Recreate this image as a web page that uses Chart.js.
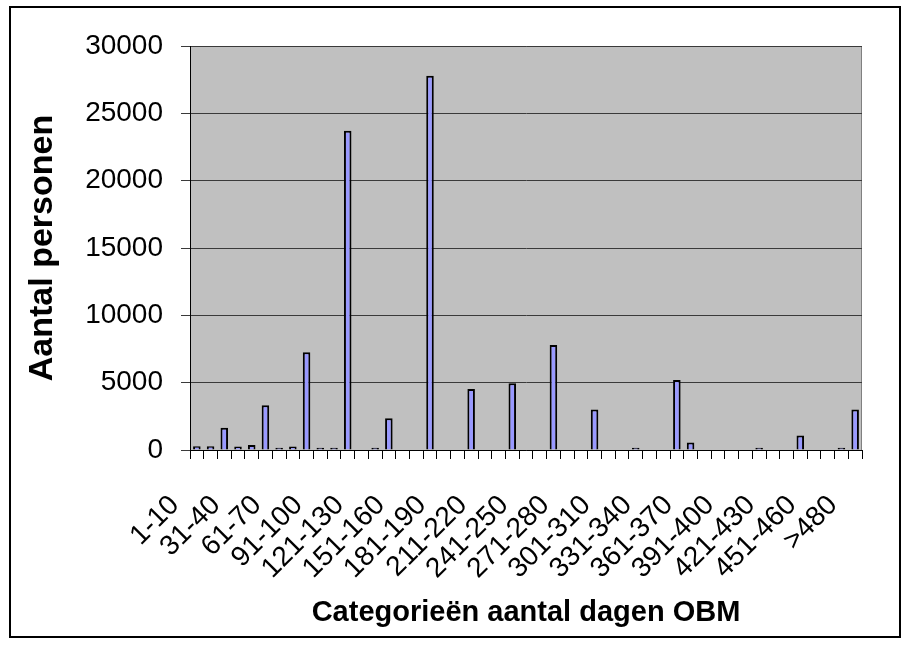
<!DOCTYPE html>
<html>
<head>
<meta charset="utf-8">
<script src="https://cdn.jsdelivr.net/npm/chart.js@4"></script>
<style>
  body { margin: 0; background: #fff; }
  #wrap { width: 912px; height: 646px; }
</style>
</head>
<body>
<div id="wrap"><canvas id="myChart" width="912" height="646"></canvas></div>
<script>
let labels = ['1-10', '11-20', '21-30', '31-40', '41-50', '51-60', '61-70', '71-80', '81-90', '91-100',
  '101-110', '111-120', '121-130', '131-140', '141-150', '151-160', '161-170', '171-180', '181-190', '191-200',
  '201-210', '211-220', '221-230', '231-240', '241-250', '251-260', '261-270', '271-280', '281-290', '291-300',
  '301-310', '311-320', '321-330', '331-340', '341-350', '351-360', '361-370', '371-380', '381-390', '391-400',
  '401-410', '411-420', '421-430', '431-440', '441-450', '451-460', '461-470', '471-480', '>480'];
let personen = [280, 280, 1650, 260, 380, 3320, 160, 260, 7250, 160,
  160, 23700, 0, 160, 2350, 0, 0, 27800, 0, 0,
  4530, 0, 0, 4950, 0, 0, 7800, 0, 0, 3000,
  0, 0, 160, 0, 0, 5200, 550, 0, 0, 0,
  0, 160, 0, 0, 1080, 0, 0, 160, 3000];
let yTicks = [0, 5000, 10000, 15000, 20000, 25000, 30000];

const FONT = "'Liberation Sans', Arial, sans-serif";

// grey plot area, grey top/right edge and the outer frame
const frame = {
  id: 'frame',
  beforeDraw(chart) {
    const { ctx, chartArea: a } = chart;
    ctx.save();
    ctx.fillStyle = '#fff';
    ctx.fillRect(0, 0, chart.width, chart.height);
    ctx.fillStyle = '#c0c0c0';
    ctx.fillRect(a.left, a.top, a.right - a.left, a.bottom - a.top);
    ctx.strokeStyle = '#808080';
    ctx.lineWidth = 1;
    ctx.beginPath();
    ctx.moveTo(a.left, a.top + 0.5);
    ctx.lineTo(a.right - 0.5, a.top + 0.5);
    ctx.lineTo(a.right - 0.5, a.bottom);
    ctx.stroke();
    ctx.strokeStyle = '#000';
    ctx.lineWidth = 2;
    ctx.strokeRect(10, 7, 890, 630);
    ctx.restore();
  }
};

let ctx = document.getElementById('myChart').getContext('2d');
let myChart = new Chart(ctx, {
  type: 'bar',
  data: {
    labels: labels,
    datasets: [{
      data: personen,
      backgroundColor: '#9999ff',
      borderColor: '#000',
      borderWidth: 2,
      barPercentage: 0.55,
      categoryPercentage: 1
    }]
  },
  options: {
    responsive: false,
    animation: false,
    devicePixelRatio: 1,
    layout: { padding: { left: 22, top: 46, right: 50, bottom: 8 } },
    plugins: { legend: { display: false }, tooltip: { enabled: false } },
    scales: {
      x: {
        grid: { drawOnChartArea: false, tickLength: 9, color: '#000', offset: true },
        border: { color: '#000', width: 1 },
        ticks: {
          autoSkip: false,
          minRotation: 45,
          maxRotation: 45,
          padding: 30,
          labelOffset: -22,
          color: '#000',
          font: { family: FONT, size: 28 },
          callback: (v, i) => (i % 3 === 0 ? labels[i] : '')
        },
        title: {
          display: true,
          text: 'Categorieën aantal dagen OBM',
          color: '#000',
          font: { family: FONT, size: 29, weight: 'bold' },
          padding: { top: 0, bottom: 8 }
        },
        afterFit: (scale) => { scale.height = 188; }
      },
      y: {
        min: 0,
        max: 30000,
        afterBuildTicks: (scale) => { scale.ticks = yTicks.map(v => ({ value: v })); },
        grid: { color: '#3a3a3a', tickLength: 9 },
        border: { color: '#000', width: 1 },
        ticks: {
          padding: 18,
          color: '#000',
          font: { family: FONT, size: 28 },
          callback: (v) => String(v)
        },
        title: {
          display: true,
          text: 'Aantal personen',
          color: '#000',
          font: { family: FONT, size: 34, weight: 'bold' },
          padding: { top: 0, bottom: 0 }
        },
        afterFit: (scale) => { scale.width = 168; }
      }
    }
  },
  plugins: [frame]
});
</script>
</body>
</html>
